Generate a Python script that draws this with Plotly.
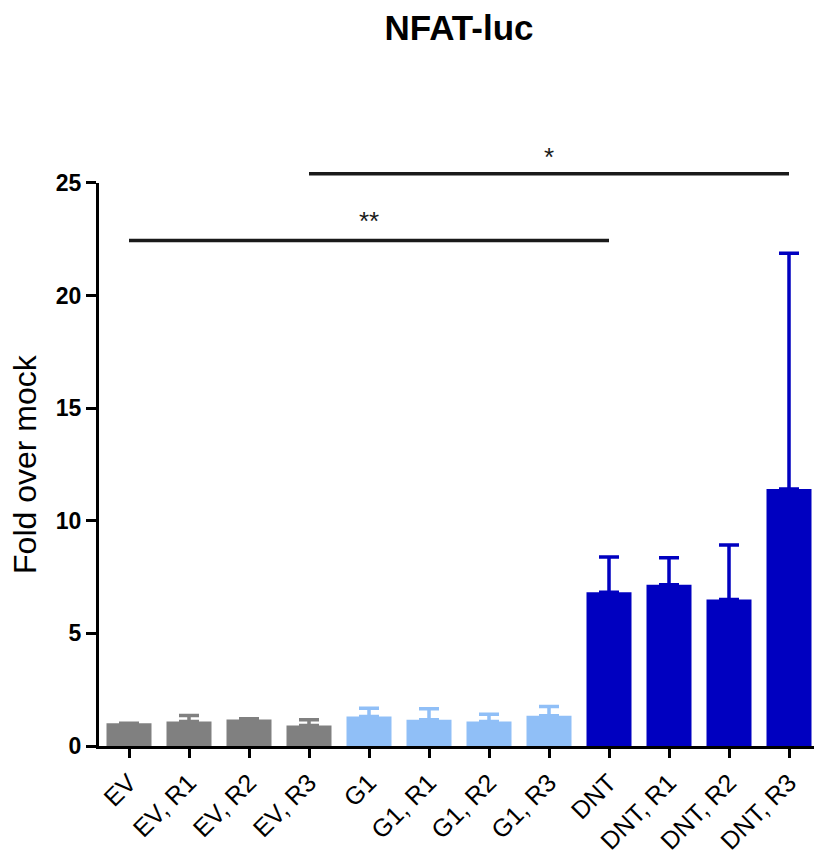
import plotly.graph_objects as go

categories = ["EV", "EV, R1", "EV, R2", "EV, R3",
              "G1", "G1, R1", "G1, R2", "G1, R3",
              "DNT", "DNT, R1", "DNT, R2", "DNT, R3"]
means = [1.01, 1.09, 1.18, 0.91,
         1.31, 1.16, 1.09, 1.34,
         6.82, 7.16, 6.50, 11.41]
errors = [0.0, 0.26, 0.03, 0.25,
          0.37, 0.49, 0.32, 0.41,
          1.57, 1.20, 2.42, 10.46]
group_colors = ["#808080"] * 4 + ["#90BFF7"] * 4 + ["#0000C0"] * 4

# significance brackets: (start category, end category, line height, label, label position, label height)
sig_lines = [
    ("EV", "DNT", 22.44, "**", "G1", 23.2),
    ("EV, R3", "DNT, R3", 25.40, "*", "G1, R3", 26.05),
]
y_ticks = [0, 5, 10, 15, 20, 25]
y_max = 25

W, H = 814, 855
m_l, m_r, m_t, m_b = 99, 0, 10, 107
plot_h = H - m_t - m_b
y_top_px = 181
d1 = (H - m_b - y_top_px) / plot_h
x_range = [-0.5, -0.5 + (W - m_l - m_r) / 60.0]

fig = go.Figure()

for cat, m, e, c in zip(categories, means, errors, group_colors):
    fig.add_trace(go.Bar(
        x=[cat], y=[m], width=0.75,
        marker=dict(color=c, line=dict(width=0)),
        error_y=dict(type="data", symmetric=False, array=[e], arrayminus=[0],
                     color=c, thickness=3.5, width=10),
        showlegend=False, xaxis="x", yaxis="y",
    ))

font_fam = "Liberation Sans, Arial, sans-serif"
for a, b, yl, lab, xlab, ylab in sig_lines:
    fig.add_trace(go.Scatter(
        x=[a, b], y=[yl, yl], mode="lines",
        line=dict(color="#1a1a1a", width=3.5),
        showlegend=False, xaxis="x2", yaxis="y2", hoverinfo="skip",
    ))
    fig.add_trace(go.Scatter(
        x=[xlab], y=[ylab], mode="text", text=[lab],
        textfont=dict(size=26, color="#1a1a1a", family=font_fam),
        textposition="middle center",
        showlegend=False, xaxis="x2", yaxis="y2", hoverinfo="skip",
    ))

fig.update_layout(
    width=W, height=H,
    margin=dict(l=m_l, r=m_r, t=m_t, b=m_b),
    plot_bgcolor="rgba(0,0,0,0)", paper_bgcolor="white",
    font=dict(family=font_fam, color="black"),
    title=dict(text="<b>NFAT-luc</b>", font=dict(size=35, family=font_fam, color="black"),
               xref="paper", x=(459 - m_l) / (W - m_l - m_r), xanchor="center",
               yref="container", y=1 - 28 / H, yanchor="middle"),
    xaxis=dict(
        type="category", categoryorder="array", categoryarray=categories,
        range=x_range, showline=True, linecolor="black", linewidth=3,
        ticks="outside", ticklen=9, tickwidth=3, tickcolor="black",
        tickangle=-45, tickfont=dict(size=25, family=font_fam, color="black"),
        showgrid=False, zeroline=False, fixedrange=True,
    ),
    yaxis=dict(
        domain=[0, d1], range=[0, y_max], tickvals=y_ticks,
        ticktext=[f"<b>{v}</b>" for v in y_ticks],
        showline=True, linecolor="black", linewidth=3,
        ticks="outside", ticklen=10, tickwidth=3, tickcolor="black",
        tickfont=dict(size=23, family=font_fam, color="black"),
        showgrid=False, zeroline=False, fixedrange=True,
    ),
    xaxis2=dict(
        type="category", categoryorder="array", categoryarray=categories,
        range=x_range, anchor="y2", visible=False, fixedrange=True,
    ),
    yaxis2=dict(
        domain=[0, 1], range=[0, y_max / d1], anchor="x2",
        visible=False, fixedrange=True,
    ),
    annotations=[dict(
        text="Fold over mock", textangle=-90, showarrow=False,
        xref="paper", yref="paper",
        x=(25 - m_l) / (W - m_l - m_r), xanchor="center",
        y=(H - m_b - 464) / plot_h, yanchor="middle",
        font=dict(size=32, family=font_fam, color="black"),
    )],
)

fig.write_html("out.html", config={"displayModeBar": False},
               post_script="document.body.style.margin='0px';")
